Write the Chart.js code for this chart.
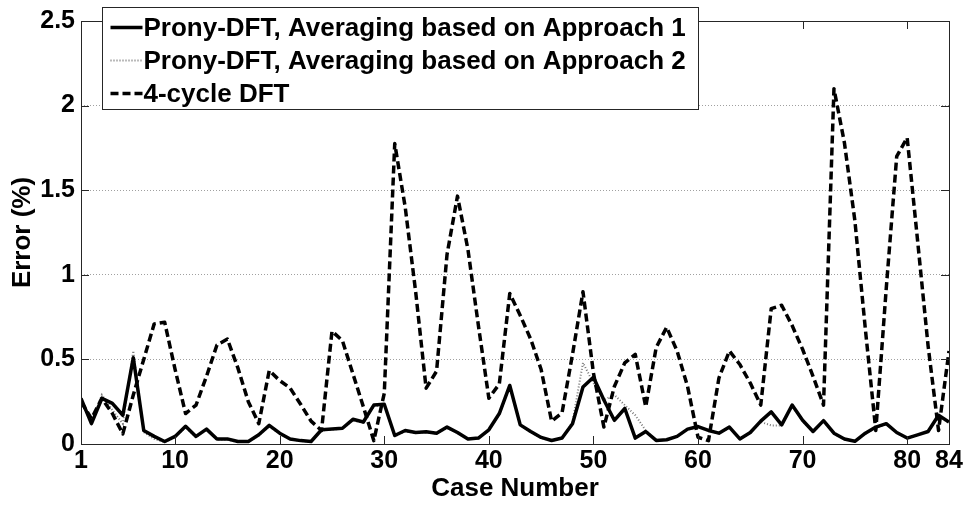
<!DOCTYPE html>
<html><head><meta charset="utf-8">
<script src="https://cdn.jsdelivr.net/npm/chart.js@4.4.0/dist/chart.umd.min.js"></script>
<style>html,body{margin:0;padding:0;background:#fff;}#wrap{width:966px;height:506px;position:relative;}</style>
</head><body><div id="wrap"><canvas id="c" width="966" height="506"></canvas></div>
<script>
const caseNumbers = [1,2,3,4,5,6,7,8,9,10,11,12,13,14,15,16,17,18,19,20,21,22,23,24,25,26,27,28,29,30,31,32,33,34,35,36,37,38,39,40,41,42,43,44,45,46,47,48,49,50,51,52,53,54,55,56,57,58,59,60,61,62,63,64,65,66,67,68,69,70,71,72,73,74,75,76,77,78,79,80,81,82,83,84];
const approach1 = [0.27,0.12,0.27,0.24,0.17,0.51,0.08,0.045,0.015,0.045,0.105,0.045,0.088,0.03,0.03,0.015,0.015,0.055,0.11,0.064,0.03,0.02,0.015,0.084,0.088,0.093,0.146,0.13,0.23,0.235,0.05,0.08,0.068,0.072,0.064,0.1,0.068,0.03,0.035,0.084,0.18,0.346,0.113,0.074,0.039,0.021,0.035,0.12,0.337,0.395,0.26,0.14,0.21,0.035,0.074,0.021,0.025,0.045,0.088,0.103,0.08,0.064,0.1,0.03,0.068,0.135,0.19,0.113,0.23,0.14,0.074,0.138,0.064,0.03,0.016,0.064,0.1,0.12,0.068,0.035,0.054,0.074,0.17,0.13];
const approach2 = [0.25,0.13,0.29,0.2,0.12,0.55,0.07,0.03,0.01,0.04,0.1,0.04,0.085,0.025,0.025,0.012,0.012,0.05,0.105,0.06,0.028,0.018,0.012,0.08,0.085,0.09,0.14,0.125,0.225,0.23,0.045,0.075,0.065,0.07,0.06,0.095,0.065,0.028,0.032,0.08,0.175,0.34,0.11,0.07,0.036,0.02,0.032,0.13,0.48,0.36,0.26,0.29,0.23,0.17,0.08,0.02,0.024,0.043,0.085,0.1,0.078,0.062,0.097,0.028,0.065,0.13,0.11,0.11,0.225,0.135,0.07,0.135,0.06,0.028,0.015,0.06,0.097,0.117,0.065,0.033,0.052,0.072,0.165,0.125];
const dft4cycle = [0.25,0.15,0.27,0.18,0.06,0.29,0.5,0.71,0.72,0.44,0.18,0.23,0.4,0.585,0.62,0.45,0.25,0.12,0.434,0.375,0.33,0.235,0.135,0.08,0.667,0.61,0.415,0.22,0.02,0.3,1.776,1.4,0.9,0.33,0.43,1.12,1.465,1.15,0.7,0.27,0.355,0.89,0.76,0.62,0.44,0.135,0.185,0.53,0.9,0.42,0.1,0.34,0.48,0.53,0.22,0.57,0.69,0.55,0.34,0.04,0.02,0.39,0.55,0.47,0.36,0.23,0.8,0.82,0.7,0.56,0.4,0.23,2.1,1.78,1.32,0.68,0.08,0.92,1.7,1.81,1.2,0.58,0.08,0.55];
const xTickValues = [1,10,20,30,40,50,60,70,80,84];
const yTickValues = [0,0.5,1,1.5,2,2.5];
const yTickLabels = ['0','0.5','1','1.5','2','2.5'];
const seriesNames = ['Prony-DFT, Averaging based on Approach 1','Prony-DFT, Averaging based on Approach 2','4-cycle DFT'];
const xTitle = 'Case Number';
const yTitle = 'Error (%)';

const FONT = '"Liberation Sans", Arial, Helvetica, sans-serif';
function pts(arr){ return caseNumbers.map((c,i)=>({x:c,y:arr[i]})); }

const styles = [
  {color:'#000000', width:3.5, dash:[], order:1},
  {color:'#777777', width:2, dash:[1,2], order:2},
  {color:'#000000', width:3.5, dash:[8,4], order:0}
];
const seriesData = [approach1, approach2, dft4cycle];

const framePlugin = {
  id:'frame',
  afterDatasetsDraw(chart){
    const {ctx, chartArea:a, scales:{x, y}} = chart;
    ctx.save();
    ctx.strokeStyle = '#262626';
    ctx.lineWidth = 1;
    ctx.setLineDash([]);
    ctx.strokeRect(Math.round(a.left)+0.5, Math.round(a.top)+0.5, Math.round(a.right-a.left), Math.round(a.bottom-a.top));
    const L = 8;
    ctx.beginPath();
    xTickValues.forEach(v=>{
      const px = Math.round(x.getPixelForValue(v))+0.5;
      ctx.moveTo(px, a.bottom); ctx.lineTo(px, a.bottom-L);
      ctx.moveTo(px, a.top); ctx.lineTo(px, a.top+L);
    });
    yTickValues.forEach(v=>{
      const py = Math.round(y.getPixelForValue(v))+0.5;
      ctx.moveTo(a.left, py); ctx.lineTo(a.left+L, py);
      ctx.moveTo(a.right, py); ctx.lineTo(a.right-L, py);
    });
    ctx.stroke();
    ctx.restore();
  }
};

const legendPlugin = {
  id:'boxLegend',
  afterDraw(chart){
    const {ctx, chartArea:a} = chart;
    const bx = Math.round(a.left + 21) + 0.5, by = 7.5, bw = 596, bh = 102;
    ctx.save();
    ctx.fillStyle = '#fff';
    ctx.fillRect(bx, by, bw, bh);
    ctx.strokeStyle = '#262626'; ctx.lineWidth = 1; ctx.setLineDash([]);
    ctx.strokeRect(bx, by, bw, bh);
    ctx.font = 'bold 26px ' + FONT;
    ctx.textBaseline = 'middle';
    ctx.fillStyle = '#000';
    seriesNames.forEach((name,i)=>{
      const cy = by + 20 + i*33;
      const st = styles[i];
      ctx.beginPath();
      ctx.strokeStyle = st.color; ctx.lineWidth = st.width; ctx.setLineDash(st.dash);
      ctx.moveTo(bx+8, cy); ctx.lineTo(bx+40, cy); ctx.stroke();
      ctx.setLineDash([]);
      ctx.fillText(name, bx+41, cy+1);
    });
    ctx.restore();
  }
};

new Chart(document.getElementById('c'), {
  type:'line',
  data:{
    datasets: seriesNames.map((n,i)=>({
      label:n,
      data:pts(seriesData[i]),
      borderColor:styles[i].color,
      borderWidth:styles[i].width,
      borderDash:styles[i].dash,
      borderJoinStyle: i===1 ? 'miter' : 'round',
      pointRadius:0,
      tension:0,
      fill:false,
      order:styles[i].order
    }))
  },
  options:{
    responsive:false,
    animation:false,
    devicePixelRatio:1,
    layout:{padding:{left:0,right:17,top:15,bottom:0}},
    plugins:{legend:{display:false},tooltip:{enabled:false}},
    scales:{
      x:{
        type:'linear', min:1, max:84,
        afterBuildTicks:s=>{ s.ticks = xTickValues.map(v=>({value:v})); },
        afterFit:s=>{ s.height = 62; },
        ticks:{autoSkip:false, maxRotation:0, padding:2, color:'#000', font:{family:FONT, size:25, weight:'bold'}},
        grid:{display:false, drawTicks:false},
        border:{display:false},
        title:{display:true, text:xTitle, color:'#000', font:{family:FONT, size:26, weight:'bold'}, padding:{top:0,bottom:2}}
      },
      y:{
        min:0, max:2.5,
        afterBuildTicks:s=>{ s.ticks = yTickValues.map(v=>({value:v})); },
        afterFit:s=>{ s.width = 81; },
        ticks:{padding:6, color:'#000', font:{family:FONT, size:25, weight:'bold'},
          callback:(v)=>{ const k = yTickValues.indexOf(v); return k>=0 ? yTickLabels[k] : ''; }},
        grid:{display:true, drawTicks:false, color:'#a0a0a0', lineWidth:1},
        border:{display:false, dash:[1,2]},
        title:{display:true, text:yTitle, color:'#000', font:{family:FONT, size:26, weight:'bold'}, padding:{top:7,bottom:0}}
      }
    }
  },
  plugins:[framePlugin, legendPlugin]
});
</script></body></html>
